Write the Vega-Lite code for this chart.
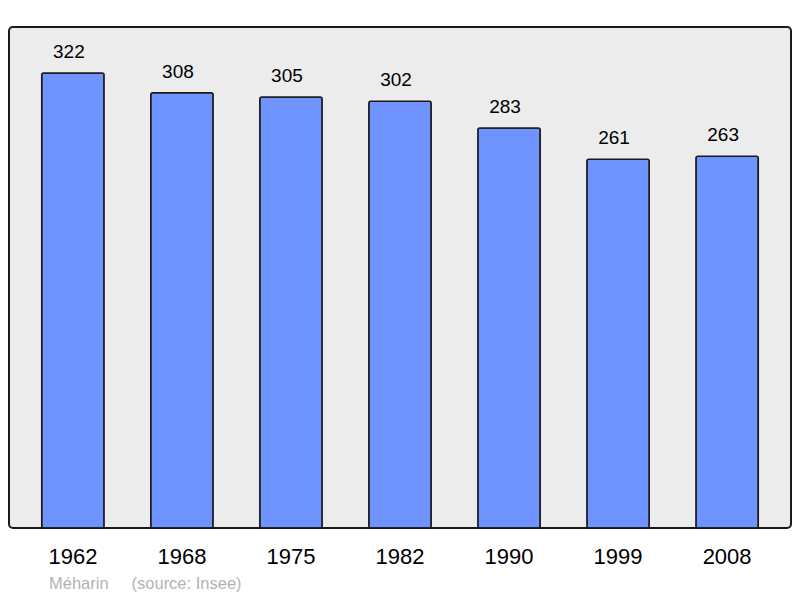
{
  "$schema": "https://vega.github.io/schema/vega-lite/v6.json",
  "width": 782,
  "height": 501,
  "autosize": {"type": "none"},
  "padding": {"left": 9, "top": 27, "right": 9, "bottom": 70},
  "background": "white",
  "config": {
    "font": "Liberation Sans",
    "view": {"fill": "#ececec", "stroke": "#1a1a1a", "strokeWidth": 2, "cornerRadius": 4}
  },
  "title": {
    "text": "Méharin\u00a0\u00a0\u00a0\u00a0\u00a0(source: Insee)",
    "orient": "bottom",
    "anchor": "start",
    "frame": "group",
    "dx": 40,
    "offset": 9,
    "fontSize": 16.5,
    "fontWeight": "normal",
    "color": "#b3b3b3",
    "font": "Liberation Sans"
  },
  "data": {
    "values": [
      {"year": "1962", "pop": 322},
      {"year": "1968", "pop": 308},
      {"year": "1975", "pop": 305},
      {"year": "1982", "pop": 302},
      {"year": "1990", "pop": 283},
      {"year": "1999", "pop": 261},
      {"year": "2008", "pop": 263}
    ]
  },
  "encoding": {
    "x": {
      "field": "year",
      "type": "ordinal",
      "title": null,
      "scale": {"paddingInner": 0.428, "paddingOuter": 0.3},
      "axis": {
        "domain": false,
        "ticks": false,
        "labelAngle": 0,
        "labelFontSize": 22,
        "labelColor": "black",
        "labelPadding": 18
      }
    },
    "y": {
      "field": "pop",
      "type": "quantitative",
      "scale": {"domain": [0, 354.5], "nice": false},
      "axis": null
    }
  },
  "layer": [
    {
      "mark": {"type": "bar", "fill": "#7094ff", "stroke": "#1a1a1a", "strokeWidth": 1.5, "cornerRadius": 2}
    },
    {
      "mark": {"type": "text", "baseline": "alphabetic", "dy": -15, "dx": -4, "fontSize": 19, "color": "black"},
      "encoding": {"text": {"field": "pop", "type": "quantitative"}}
    }
  ]
}
